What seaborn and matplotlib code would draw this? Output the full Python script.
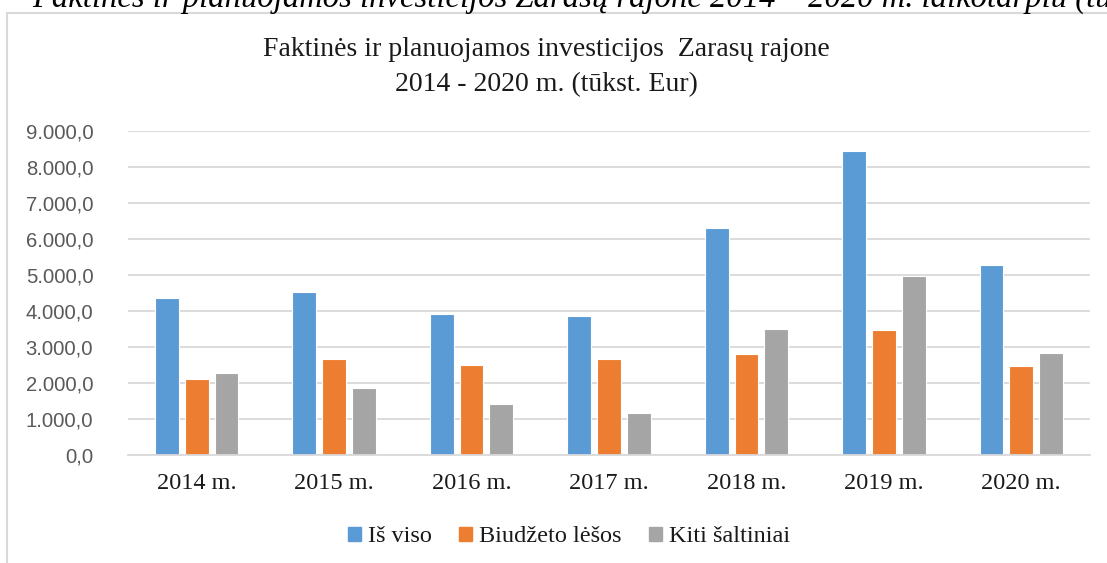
import pandas as pd
import numpy as np
import matplotlib.pyplot as plt
import seaborn as sns
from matplotlib.ticker import FuncFormatter
from matplotlib.lines import Line2D

years = ["2014 m.", "2015 m.", "2016 m.", "2017 m.", "2018 m.", "2019 m.", "2020 m."]
series_names = ["Iš viso", "Biudžeto lėšos", "Kiti šaltiniai"]
is_viso = [4350, 4520, 3920, 3860, 6310, 8440, 5290]
biudzeto_lesos = [2100, 2660, 2500, 2660, 2800, 3460, 2460]
kiti_saltiniai = [2270, 1870, 1420, 1170, 3490, 4960, 2830]
colors = ["#5B9BD5", "#ED7D31", "#A5A5A5"]

# long format for seaborn
df = pd.DataFrame({
    "Metai": years * 3,
    "Šaltinis": [series_names[0]] * 7 + [series_names[1]] * 7 + [series_names[2]] * 7,
    "Suma": is_viso + biudzeto_lesos + kiti_saltiniai,
})

sns.set_style("white")
plt.rcParams['font.family'] = ['Liberation Serif', 'DejaVu Serif']

fig = plt.figure(figsize=(11.07, 5.63), dpi=100)
ax = fig.add_axes([128 / 1107, 1 - 455 / 563, (1090 - 128) / 1107, (455 - 131) / 563])

sns.barplot(data=df, x="Metai", y="Suma", hue="Šaltinis", palette=colors, saturation=1,
            width=0.65, gap=0.2, ax=ax, legend=False, linewidth=0.8, edgecolor="#FFFFFF")

ax.set_ylim(0, 9000)
ax.set_yticks(np.arange(0, 9001, 1000))


def lt_fmt(v, pos):
    s = f"{v:,.1f}"
    return s.replace(",", " ").replace(".", ",").replace(" ", ".")


ax.yaxis.set_major_formatter(FuncFormatter(lt_fmt))
for lbl in ax.get_yticklabels():
    lbl.set_family("Liberation Sans")
    lbl.set_fontsize(14.6)
    lbl.set_color("#595959")
ax.tick_params(axis='y', length=0, pad=25)
ax.tick_params(axis='x', length=0, pad=13, labelsize=17.5, labelcolor="#1a1a1a")
ax.set_xlabel("")
ax.set_ylabel("")
ax.grid(axis='y', color="#D9D9D9", linewidth=1.3)
ax.set_axisbelow(True)
for s in ["top", "right", "left"]:
    ax.spines[s].set_visible(False)
ax.spines["bottom"].set_color("#D9D9D9")
ax.spines["bottom"].set_linewidth(1.3)

# title
fig.text(0.494, 1 - 50 / 563, "Faktinės ir planuojamos investicijos  Zarasų rajone",
         ha='center', va='center', fontsize=20, color="#1a1a1a")
fig.text(0.494, 1 - 85 / 563, "2014 - 2020 m. (tūkst. Eur)",
         ha='center', va='center', fontsize=20, color="#1a1a1a")

# cut-off caption line from the document above the chart
fig.text(32 / 1107, 1 - 7 / 563,
         "Faktinės ir planuojamos investicijos Zarasų rajone 2014 – 2020 m. laikotarpiu (tūkst. Eur)",
         ha='left', va='baseline', fontsize=23.5, style='italic', color="black")

# chart frame
fig.add_artist(Line2D([7 / 1107, 7 / 1107], [0, 1 - 12.5 / 563], transform=fig.transFigure,
                      color="#D9D9D9", linewidth=1.5))
fig.add_artist(Line2D([7 / 1107, 1], [1 - 12.5 / 563, 1 - 12.5 / 563], transform=fig.transFigure,
                      color="#D9D9D9", linewidth=1.5))

handles = [plt.Rectangle((0, 0), 1, 1, color=c) for c in colors]
fig.legend(handles, series_names, loc='center', bbox_to_anchor=(0.514, 1 - 537 / 563),
           ncol=3, frameon=False, fontsize=17.5, handlelength=0.55, handleheight=0.55,
           handletextpad=0.3, columnspacing=1.1, labelcolor="#1a1a1a")

fig.savefig("out.png", dpi=100)
